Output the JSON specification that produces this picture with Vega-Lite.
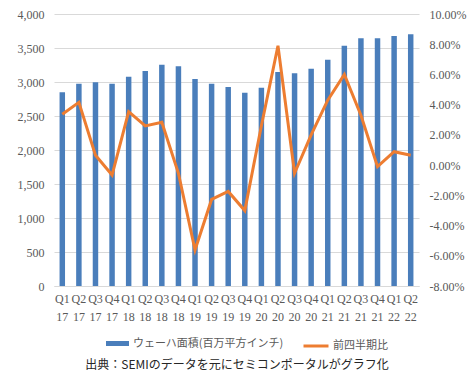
{
  "$schema": "https://vega.github.io/schema/vega-lite/v6.json",
  "autosize": {"type": "none"},
  "width": 365,
  "height": 272,
  "padding": {"left": 54, "top": 14, "right": 57, "bottom": 87},
  "background": "white",
  "config": {
    "view": {"stroke": null},
    "font": "Liberation Serif",
    "axis": {"labelFont": "Liberation Serif", "labelColor": "#595959", "labelFontSize": 12, "ticks": false, "domain": false},
    "legend": {"labelFont": "Noto Sans CJK JP", "labelColor": "#595959", "labelFontSize": 11, "padding": 0, "titlePadding": 0}
  },
  "data": {
    "values": [
      {"q": "Q1 17", "area": 2848, "qoq": 0.0336},
      {"q": "Q2 17", "area": 2975, "qoq": 0.0415},
      {"q": "Q3 17", "area": 2995, "qoq": 0.0065},
      {"q": "Q4 17", "area": 2975, "qoq": -0.0066},
      {"q": "Q1 18", "area": 3078, "qoq": 0.0354},
      {"q": "Q2 18", "area": 3162, "qoq": 0.0259},
      {"q": "Q3 18", "area": 3255, "qoq": 0.0283},
      {"q": "Q4 18", "area": 3230, "qoq": -0.0054},
      {"q": "Q1 19", "area": 3044, "qoq": -0.0562},
      {"q": "Q2 19", "area": 2975, "qoq": -0.0227},
      {"q": "Q3 19", "area": 2926, "qoq": -0.0174},
      {"q": "Q4 19", "area": 2843, "qoq": -0.0301},
      {"q": "Q1 20", "area": 2917, "qoq": 0.0260},
      {"q": "Q2 20", "area": 3147, "qoq": 0.0790},
      {"q": "Q3 20", "area": 3127, "qoq": -0.0054},
      {"q": "Q4 20", "area": 3196, "qoq": 0.0200},
      {"q": "Q1 21", "area": 3328, "qoq": 0.0430},
      {"q": "Q2 21", "area": 3534, "qoq": 0.0600},
      {"q": "Q3 21", "area": 3642, "qoq": 0.0330},
      {"q": "Q4 21", "area": 3642, "qoq": -0.0010},
      {"q": "Q1 22", "area": 3676, "qoq": 0.0089},
      {"q": "Q2 22", "area": 3701, "qoq": 0.0065}
    ]
  },
  "encoding": {
    "x": {
      "field": "q",
      "type": "nominal",
      "sort": null,
      "scale": {"paddingInner": 0.67, "paddingOuter": 0.335},
      "axis": {
        "labelAngle": 0,
        "labelExpr": "split(datum.value, ' ')",
        "labelLineHeight": 18,
        "labelPadding": 7,
        "labelFontSize": 12,
        "domain": true,
        "domainColor": "#d9d9d9",
        "title": "出典：SEMIのデータを元にセミコンポータルがグラフ化",
        "titleFont": "Noto Sans CJK JP",
        "titleFontSize": 12,
        "titleFontWeight": "normal",
        "titleColor": "#262626",
        "titlePadding": 37
      }
    }
  },
  "layer": [
    {
      "mark": {"type": "bar"},
      "encoding": {
        "y": {
          "field": "area",
          "type": "quantitative",
          "scale": {"domain": [0, 4000], "nice": false},
          "axis": {
            "values": [0, 500, 1000, 1500, 2000, 2500, 3000, 3500, 4000],
            "format": ",d",
            "grid": true,
            "gridColor": "#d9d9d9",
            "labelPadding": 10,
            "title": null
          }
        },
        "fill": {
          "datum": "ウェーハ面積(百万平方インチ)",
          "scale": {"range": ["#4a7ebb"]},
          "legend": {
            "title": null,
            "orient": "none",
            "legendX": 52,
            "legendY": 318,
            "symbolType": "M-1,-0.22H1V0.22H-1Z",
            "symbolSize": 529,
            "symbolStrokeWidth": 0,
            "labelOffset": 4
          }
        }
      }
    },
    {
      "mark": {"type": "line", "strokeWidth": 3},
      "encoding": {
        "y": {
          "field": "qoq",
          "type": "quantitative",
          "scale": {"domain": [-0.08, 0.1], "nice": false},
          "axis": {
            "orient": "right",
            "values": [-0.08, -0.06, -0.04, -0.02, 0, 0.02, 0.04, 0.06, 0.08, 0.1],
            "labelExpr": "replace(format(datum.value, '.2%'), '−', '-')",
            "grid": false,
            "labelPadding": 10,
            "title": null
          }
        },
        "stroke": {
          "datum": "前四半期比",
          "scale": {"range": ["#ed7d31"]},
          "legend": {
            "title": null,
            "orient": "none",
            "legendX": 248,
            "legendY": 318,
            "symbolType": "stroke",
            "symbolSize": 625,
            "symbolStrokeWidth": 3,
            "labelOffset": 3
          }
        }
      }
    }
  ],
  "resolve": {"scale": {"y": "independent"}}
}
